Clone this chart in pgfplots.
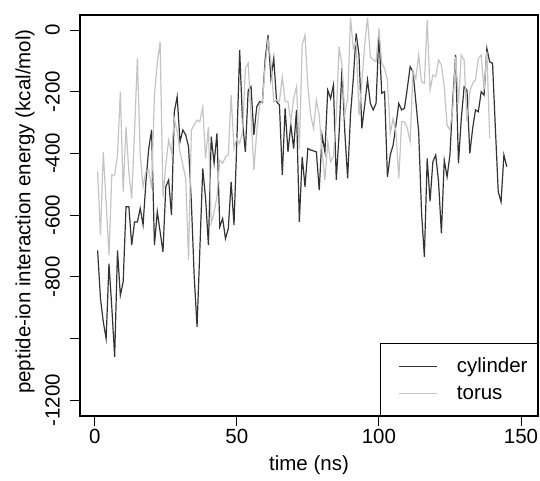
\documentclass[border=0pt]{standalone}
\usepackage{fontspec}
\setmainfont{Liberation Sans}
\usepackage{pgfplots}
\pgfplotsset{compat=1.18}
\definecolor{cyl}{HTML}{333333}
\definecolor{tor}{HTML}{C4C4C4}
\newcommand\rf{\fontsize{20.5}{24}\selectfont}
\begin{document}
\begin{tikzpicture}
\path[use as bounding box] (0,0) rectangle (540pt,480pt);
\begin{axis}[
  at={(80pt,64pt)}, anchor=south west,
  width=458pt, height=401pt, scale only axis,
  xmin=-5.2, xmax=156, ymin=-1251, ymax=48.6,
  xtick={0,50,100,150}, xticklabels={0,50,100,150},
  ytick={-1200,-1000,-800,-600,-400,-200,0},
  yticklabels={-1200,,-800,-600,-400,-200,0},
  xtick pos=bottom, ytick pos=left, tick align=outside,
  major tick length=9.5pt,
  tick style={black, line width=0.9pt},
  axis line style={black, line width=1.1pt},
  tick label style={font=\rf},
  yticklabel style={rotate=90, anchor=south, inner ysep=10.5pt},
  label style={font=\rf},
  xlabel={time (ns)},
  ylabel={peptide-ion interaction energy (kcal/mol)},
  xlabel style={at={(axis description cs:0.5,-0.122)}, anchor=center},
  ylabel style={at={(axis description cs:-0.12,0.51)}, anchor=center},
  legend style={at={(1,0)}, anchor=south east, draw=black, line width=0.9pt,
    font=\rf, inner xsep=1pt, inner ysep=12.5pt, column sep=10pt,
    nodes={inner xsep=9pt, inner ysep=2pt}, row sep=8pt, cells={anchor=west}},
  legend image code/.code={\path (0pt,0pt); \draw[#1, line width=1.2pt] (17pt,0pt) -- (55pt,0pt);},
]
% cylinder
\addplot[cyl, line width=1.2pt] coordinates {
(1,-714) (2,-870) (3,-946) (4,-1000) (5,-757) (6,-900) (7,-1059) (8,-714) (9,-860) (10,-816)
(11,-573) (12,-573) (13,-697) (14,-622) (15,-622) (16,-578) (17,-632) (18,-492) (19,-384) (20,-324)
(21,-697) (22,-589) (23,-654) (24,-719) (25,-508) (26,-486) (27,-600) (28,-265) (29,-216) (30,-362)
(31,-324) (32,-340) (33,-378) (34,-560) (35,-800) (36,-962) (37,-708) (38,-449) (39,-546) (40,-697)
(41,-346) (42,-432) (43,-335) (44,-638) (45,-611) (46,-676) (47,-643) (48,-492) (49,-632) (50,-362)
(51,-65) (52,-297) (53,-395) (54,-195) (55,-184) (56,-340) (57,-249) (58,-232) (59,-235) (60,-92)
(61,-16) (62,-157) (63,-92) (64,-232) (65,-243) (66,-470) (67,-254) (68,-395) (69,-308) (70,-384)
(71,-259) (72,-622) (73,-411) (74,-508) (75,-384) (76,-389) (77,-392) (78,-395) (79,-519) (80,-341)
(81,-395) (82,-195) (83,-222) (84,-178) (85,-486) (86,-335) (87,-124) (88,-330) (89,-481) (90,-276)
(91,-157) (92,-11) (93,-81) (94,-319) (95,-243) (96,-162) (97,-238) (98,-259) (99,-238) (100,-11)
(101,-205) (102,-200) (103,-476) (104,-405) (105,-373) (106,-308) (107,-238) (108,-259) (109,-254) (110,-189)
(111,-119) (112,-135) (113,-232) (114,-330) (115,-589) (116,-735) (117,-416) (118,-555) (119,-427) (120,-405)
(121,-492) (122,-659) (123,-422) (124,-476) (125,-405) (126,-227) (127,-81) (128,-432) (129,-287) (130,-184)
(131,-195) (132,-400) (133,-319) (134,-259) (135,-265) (136,-200) (137,-211) (138,-60) (139,-103) (140,-108)
(141,-319) (142,-524) (143,-557) (144,-405) (145,-443)
};
\addlegendentry{cylinder}
% torus
\addplot[tor, line width=1.2pt] coordinates {
(1,-459) (2,-665) (3,-395) (4,-560) (5,-730) (6,-470) (7,-470) (8,-405) (9,-200) (10,-524)
(11,-314) (12,-459) (13,-546) (14,-330) (15,-92) (16,-405) (17,-508) (18,-459) (19,-454) (20,-513)
(21,-211) (22,-108) (23,-38) (24,-541) (25,-438) (26,-357) (27,-395) (28,-287) (29,-330) (30,-395)
(31,-438) (32,-481) (33,-746) (34,-324) (35,-308) (36,-292) (37,-297) (38,-249) (39,-416) (40,-314)
(41,-627) (42,-589) (43,-541) (44,-422) (45,-432) (46,-411) (47,-405) (48,-211) (49,-384) (50,-351)
(51,-368) (52,-330) (53,-124) (54,-108) (55,-276) (56,-454) (57,-330) (58,-243) (59,-232) (60,-114)
(61,-32) (62,-103) (63,-232) (64,-227) (65,-232) (66,-151) (67,-232) (68,-232) (69,-297) (70,-222)
(71,-184) (72,-384) (73,-49) (74,-16) (75,-184) (76,-276) (77,-319) (78,-227) (79,-276) (80,-395)
(81,-486) (82,-362) (83,-427) (84,-410) (85,-276) (86,-54) (87,-114) (88,-276) (89,-222) (90,40)
(91,-60) (92,-38) (93,-276) (94,-168) (95,-49) (96,40) (97,-87) (98,-97) (99,-103) (100,5)
(101,-108) (102,-124) (103,-162) (104,-335) (105,-287) (106,-330) (107,-481) (108,-297) (109,-297) (110,-319)
(111,-362) (112,-135) (113,-157) (114,-81) (115,-168) (116,-173) (117,32) (118,-195) (119,-146) (120,-151)
(121,-97) (122,-114) (123,-184) (124,-308) (125,-324) (126,-254) (127,-87) (128,-238) (129,-81) (130,-97)
(131,-297) (132,-200) (133,-173) (134,-162) (135,-92) (136,-81) (137,-195) (138,-70) (139,-351)
};
\addlegendentry{torus}
\end{axis}
\end{tikzpicture}
\end{document}
